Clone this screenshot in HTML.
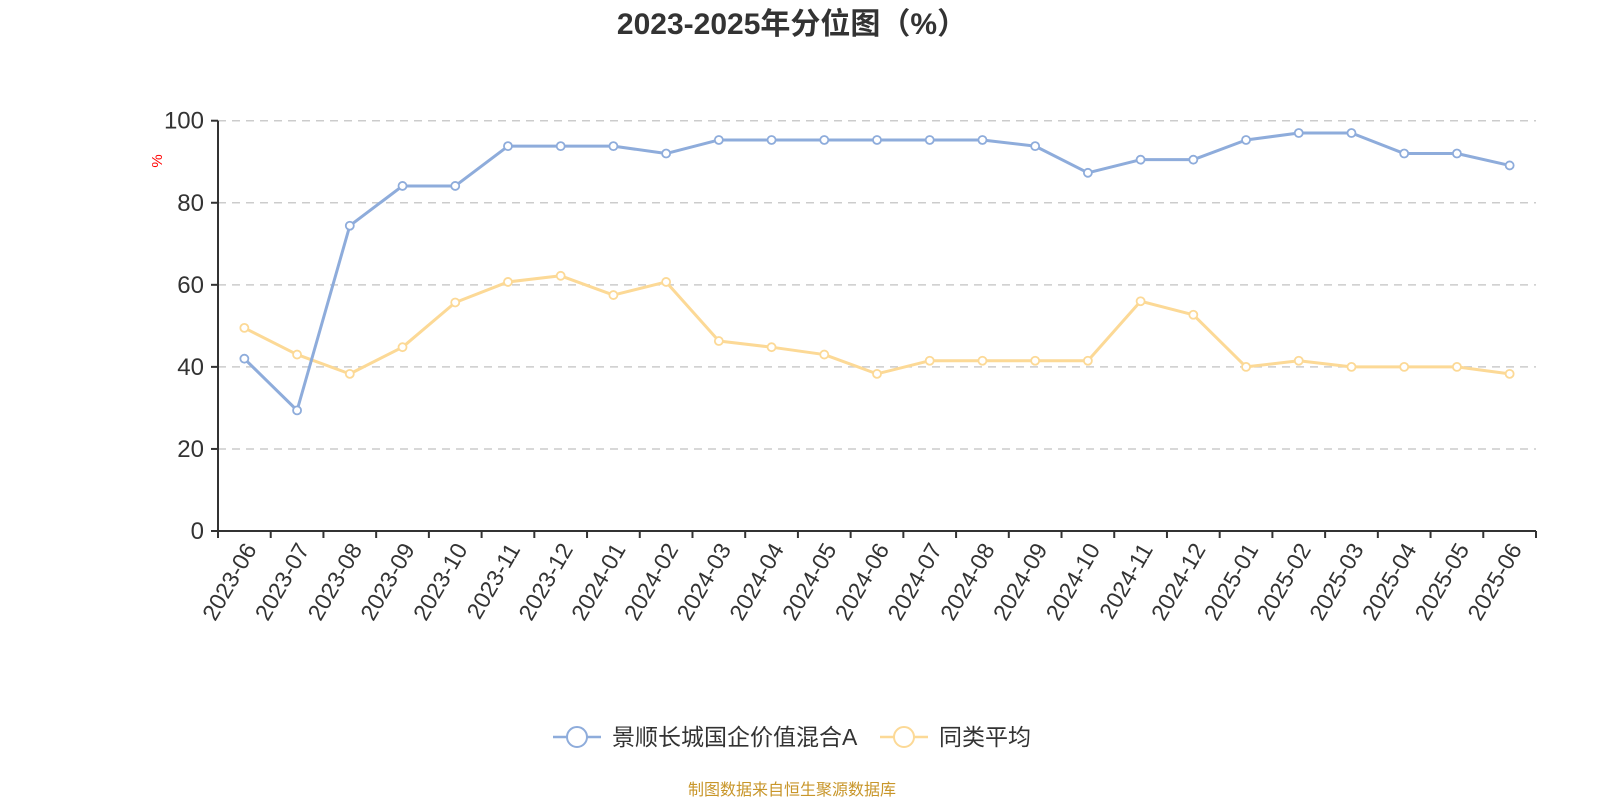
<!DOCTYPE html>
<html><head><meta charset="utf-8"><style>
html,body{margin:0;padding:0;background:#fff;}
svg{display:block;font-family:"Liberation Sans","Noto Sans CJK SC",sans-serif;}
</style></head><body>
<svg id="chart" width="1600" height="800" viewBox="0 0 1600 800">
<text x="792" y="34" text-anchor="middle" font-size="30" font-weight="bold" fill="#333">2023-2025年分位图（%）</text>
<text transform="translate(162,161) rotate(-90)" text-anchor="middle" font-size="15" fill="#f00">%</text>
<g id="grid"></g><g id="axes"></g><g id="series"></g>
<g>
<g>
<line x1="553" y1="737" x2="601" y2="737" stroke="#8eacdb" stroke-width="2.5"/>
<circle cx="577" cy="737" r="10" fill="#fff" stroke="#8eacdb" stroke-width="2"/>
<text x="612" y="745" font-size="23" fill="#333">景顺长城国企价值混合A</text></g>
<g>
<line x1="880" y1="737" x2="928" y2="737" stroke="#fcd996" stroke-width="2.5"/>
<circle cx="904" cy="737" r="10" fill="#fff" stroke="#fcd996" stroke-width="2"/>
<text x="939" y="745" font-size="23" fill="#333">同类平均</text></g>
</g>
<text x="792" y="795" text-anchor="middle" font-size="16" fill="#c8962a">制图数据来自恒生聚源数据库</text>
</svg>
<script>
const categories=["2023-06","2023-07","2023-08","2023-09","2023-10","2023-11","2023-12","2024-01","2024-02","2024-03","2024-04","2024-05","2024-06","2024-07","2024-08","2024-09","2024-10","2024-11","2024-12","2025-01","2025-02","2025-03","2025-04","2025-05","2025-06"];
const fundValues=[42.0,29.4,74.4,84.1,84.1,93.8,93.8,93.8,92.0,95.3,95.3,95.3,95.3,95.3,95.3,93.8,87.3,90.5,90.5,95.3,97.0,97.0,92.0,92.0,89.1];
const avgValues=[49.5,43.0,38.3,44.8,55.7,60.7,62.2,57.5,60.7,46.3,44.8,43.0,38.3,41.5,41.5,41.5,41.5,56.0,52.7,40.0,41.5,40.0,40.0,40.0,38.3];
const yTicks=[0,20,40,60,80,100];
const NS="http://www.w3.org/2000/svg";
const X0=218,X1=1536,Y0=531,Y1=120.7;
const band=(X1-X0)/categories.length;
function xs(i){return X0+band*(i+0.5);}
function ys(v){return Y0-(v/100)*(Y0-Y1);}
function mk(tag,attrs,parent){const e=document.createElementNS(NS,tag);for(const k in attrs)e.setAttribute(k,attrs[k]);parent.appendChild(e);return e;}
const grid=document.getElementById('grid'),axes=document.getElementById('axes'),series=document.getElementById('series');
yTicks.forEach(t=>{
  const y=ys(t);
  if(t>0){const g=mk('line',{x1:X0,x2:X1,y1:y,y2:y,stroke:'#ccc','stroke-width':1.5,'stroke-dasharray':'8,6'},grid);
  
  }
  const tk=mk('line',{x1:X0-7,x2:X0,y1:y,y2:y,stroke:'#333','stroke-width':2},axes);
  
  
  const lb=mk('text',{x:X0-14,y:y+8,'text-anchor':'end','font-size':24,fill:'#333'},axes);
  lb.textContent=t;
  
  
});
const ya=mk('line',{x1:X0,x2:X0,y1:Y1,y2:Y0+1,stroke:'#333','stroke-width':2},axes);


const xa=mk('line',{x1:X0-7,x2:X1,y1:Y0,y2:Y0,stroke:'#333','stroke-width':2},axes);


for(let i=0;i<=categories.length;i++){
  const x=X0+band*i;
  const t=mk('line',{x1:x,x2:x,y1:Y0,y2:Y0+7,stroke:'#333','stroke-width':2},axes);
  
  
}
categories.forEach((c,i)=>{
  const x=xs(i),y=Y0+14;
  const l=mk('text',{transform:`translate(${x+6},${y}) rotate(-60)`,'text-anchor':'end','font-size':23,fill:'#333','dominant-baseline':'central'},axes);
  l.textContent=c;
  
  
});
function drawSeries(vals,color,name){
  const g=mk('g',{},series);
  
  
  const pts=vals.map((v,i)=>xs(i)+','+ys(v)).join(' ');
  const pl=mk('polyline',{points:pts,fill:'none',stroke:color,'stroke-width':3,'stroke-linejoin':'round'},g);
  
  
  vals.forEach((v,i)=>{
    const c=mk('circle',{cx:xs(i),cy:ys(v),r:4,fill:'#fff',stroke:color,'stroke-width':1.8},g);
    
    
  });
}
drawSeries(avgValues,'#fcd996','average-series');
drawSeries(fundValues,'#8eacdb','fund-series');
</script>
</body></html>
